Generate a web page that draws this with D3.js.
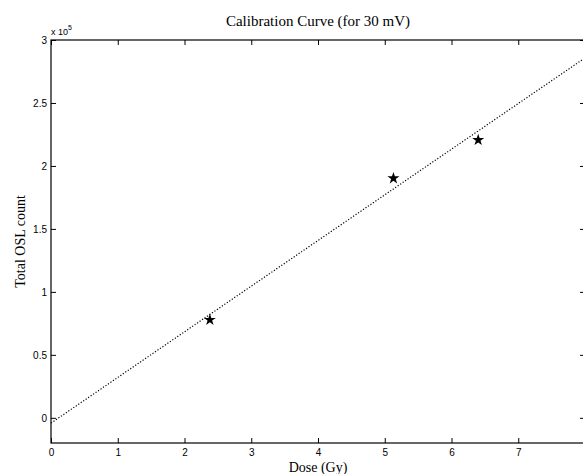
<!DOCTYPE html>
<html><head><meta charset="utf-8">
<script src="https://cdn.jsdelivr.net/npm/d3@7"></script>
<style>body{margin:0;background:#fff}svg{display:block}</style>
</head><body><div id="chart"></div>
<script>
const doseData = [2.38, 5.13, 6.40];
const countData = [77800, 190200, 220600];
const fitX = [0, 8];
const fitY = [-4200, 285800];
const xTicks = [0,1,2,3,4,5,6,7,8];
const xTickLabels = ["0","1","2","3","4","5","6","7",""];
const yTicks = [0,50000,100000,150000,200000,250000,300000];
const yTickLabels = ["0","0.5","1","1.5","2","2.5","3"];

const W = 583, H = 474;
const L = 51, R = 585, T = 40, B = 443;
const svg = d3.select("#chart").append("svg").attr("width", W).attr("height", H);
svg.append("rect").attr("width", W).attr("height", H).attr("fill", "#fff");

const x = d3.scaleLinear().domain([0, 8]).range([L, R]);
const y = d3.scaleLinear().domain([-20000, 300000]).range([B, T]);

const tickFont = "'Liberation Sans', Arial, Helvetica, sans-serif";
const serif = "'Liberation Serif', 'Times New Roman', serif";

function styleAxis(g){
  g.select(".domain").remove();
  g.selectAll("line").attr("stroke", "#000").attr("stroke-width", 1);
  g.selectAll("text").attr("font-family", tickFont).attr("font-size", 10).attr("fill", "#000");
}
svg.append("g").attr("transform", `translate(0,${B})`)
  .call(d3.axisBottom(x).tickValues(xTicks).tickFormat((d,i)=>xTickLabels[i]).tickSizeInner(-5).tickSizeOuter(0).tickPadding(6))
  .call(styleAxis);
svg.append("g").attr("transform", `translate(0,${T})`)
  .call(d3.axisTop(x).tickValues(xTicks).tickFormat("").tickSizeInner(-5).tickSizeOuter(0))
  .call(styleAxis);
svg.append("g").attr("transform", `translate(${L},0)`)
  .call(d3.axisLeft(y).tickValues(yTicks).tickFormat((d,i)=>yTickLabels[i]).tickSizeInner(-5).tickSizeOuter(0).tickPadding(4))
  .call(styleAxis);
svg.append("g").attr("transform", `translate(${R},0)`)
  .call(d3.axisRight(y).tickValues(yTicks).tickFormat("").tickSizeInner(-5).tickSizeOuter(0))
  .call(styleAxis);

svg.append("rect").attr("x", L).attr("y", T).attr("width", R-L).attr("height", B-T)
  .attr("fill", "none").attr("stroke", "#000").attr("stroke-width", 1.2);

const fit = fitX.map((d,i)=>[d, fitY[i]]);
svg.append("path").datum(fit)
  .attr("d", d3.line().x(d=>x(d[0])).y(d=>y(d[1])))
  .attr("fill", "none").attr("stroke", "#000").attr("stroke-width", 1.2)
  .attr("stroke-dasharray", "1.2,1.8");

svg.selectAll(".pt").data(doseData.map((d,i)=>[d, countData[i]])).enter()
  .append("path").attr("class","pt")
  .attr("transform", d=>`translate(${x(d[0])},${y(d[1])})`)
  .attr("d", d3.symbol().type(d3.symbolStar).size(45))
  .attr("fill", "#000");

const ex = svg.append("text").attr("x", L).attr("y", 35)
  .attr("font-family", tickFont).attr("font-size", 9).attr("fill", "#000");
ex.append("tspan").text("x 10");
ex.append("tspan").attr("dy", -5).attr("font-size", 7).text("5");

svg.append("text").attr("x", (L+R)/2).attr("y", 26).attr("text-anchor", "middle")
  .attr("font-family", serif).attr("font-size", 15).attr("fill", "#000")
  .text("Calibration Curve (for 30 mV)");
svg.append("text").attr("x", (L+R)/2).attr("y", 472).attr("text-anchor", "middle")
  .attr("font-family", serif).attr("font-size", 14).attr("fill", "#000")
  .text("Dose (Gy)");
svg.append("text").attr("transform", `translate(25,${(T+B)/2}) rotate(-90)`).attr("text-anchor", "middle")
  .attr("font-family", serif).attr("font-size", 14).attr("fill", "#000")
  .text("Total OSL count");
</script></body></html>
